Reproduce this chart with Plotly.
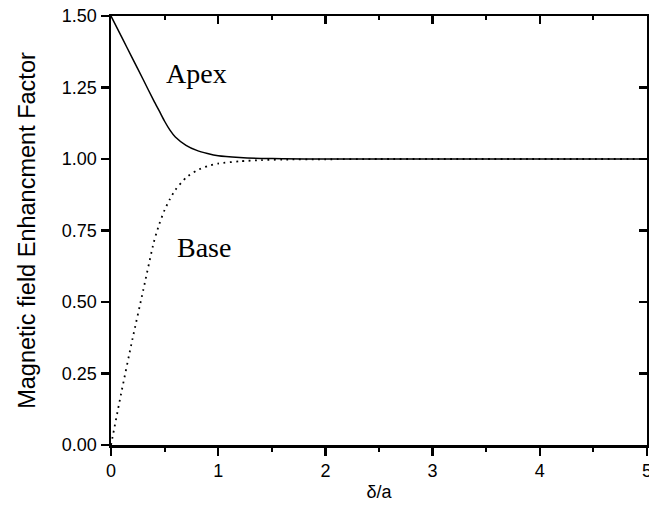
import plotly.graph_objects as go

# Data
x_vals = [0, 0.1, 0.2, 0.3, 0.4, 0.45, 0.5, 0.55, 0.6, 0.7, 0.8, 0.9, 1.0, 1.2, 1.4, 1.6, 2.0, 2.5, 3.0, 4.0, 5.0]
apex = [1.500, 1.426, 1.352, 1.278, 1.203, 1.168, 1.132, 1.101, 1.077, 1.048, 1.030, 1.019, 1.011, 1.005, 1.002, 1.001, 1.000, 1.000, 1.000, 1.000, 1.000]
base = [0.000, 0.190, 0.370, 0.540, 0.710, 0.772, 0.822, 0.860, 0.892, 0.935, 0.960, 0.975, 0.984, 0.992, 0.996, 0.998, 0.999, 1.000, 1.000, 1.000, 1.000]

x_ticks = [0, 1, 2, 3, 4, 5]
y_ticks = [0.00, 0.25, 0.50, 0.75, 1.00, 1.25, 1.50]
y_tick_text = ["%.2f" % v for v in y_ticks]

labels = [("Apex", 0.80, 1.30), ("Base", 0.87, 0.69)]

fig = go.Figure()
fig.add_trace(go.Scatter(x=x_vals, y=apex, mode="lines",
                         line=dict(color="black", width=1.5, shape="spline", smoothing=0.6), showlegend=False))
fig.add_trace(go.Scatter(x=x_vals, y=base, mode="lines",
                         line=dict(color="black", width=1.8, dash="1.8px,4.5px", shape="spline", smoothing=0.6), showlegend=False))
fig.add_trace(go.Scatter(x=[], y=[], xaxis="x2", yaxis="y2", showlegend=False))

for txt, lx, ly in labels:
    fig.add_annotation(x=lx, y=ly, text=txt, showarrow=False, xref="x", yref="y",
                       font=dict(family="Liberation Serif", size=28, color="black"))

axis_font = dict(family="Liberation Sans, Arial", size=18, color="black")

fig.update_layout(
    width=649, height=508,
    margin=dict(l=111, r=2, t=16, b=63),
    paper_bgcolor="white", plot_bgcolor="white",
    hovermode=False,
    xaxis=dict(range=[0, 5], tickvals=x_ticks, ticktext=[str(v) for v in x_ticks],
               ticks="outside", ticklen=8, tickwidth=2.5, tickcolor="black",
               showline=True, linewidth=2.5, linecolor="black", showgrid=False, zeroline=False,
               minor=dict(dtick=0.5, ticks="outside", ticklen=4, tickwidth=2, tickcolor="black"),
               tickfont=axis_font, ticklabeloverflow="allow", automargin=False,
               title=dict(text="δ/a", font=dict(family="Liberation Sans, Arial", size=18, color="black"), standoff=6)),
    yaxis=dict(range=[0, 1.5], tickvals=y_ticks, ticktext=y_tick_text,
               ticks="outside", ticklen=8, tickwidth=2.5, tickcolor="black",
               showline=True, linewidth=2.5, linecolor="black", showgrid=False, zeroline=False,
               tickfont=axis_font, ticklabeloverflow="allow", automargin=False,
               title=dict(text="Magnetic field Enhancment Factor", font=dict(family="Liberation Sans, Arial", size=23.5, color="black"), standoff=20)),
    xaxis2=dict(range=[0, 5], overlaying="x", side="top", anchor="y", tickvals=x_ticks,
                ticks="inside", ticklen=8, tickwidth=2.5, tickcolor="black", showticklabels=False,
                showline=True, linewidth=2.5, linecolor="black", showgrid=False, zeroline=False,
                automargin=False,
                minor=dict(dtick=0.5, ticks="inside", ticklen=4, tickwidth=2, tickcolor="black")),
    yaxis2=dict(range=[0, 1.5], overlaying="y", side="right", anchor="x", tickvals=y_ticks,
                ticks="inside", ticklen=8, tickwidth=2.5, tickcolor="black", showticklabels=False,
                showline=True, linewidth=2.5, linecolor="black", showgrid=False, zeroline=False,
                automargin=False),
)

fig.write_html(
    "out.html",
    config={"displayModeBar": False, "staticPlot": True},
    post_script="document.documentElement.style.margin='0';document.body.style.margin='0';"
                "document.body.style.overflow='hidden';document.documentElement.style.overflow='hidden';",
)
